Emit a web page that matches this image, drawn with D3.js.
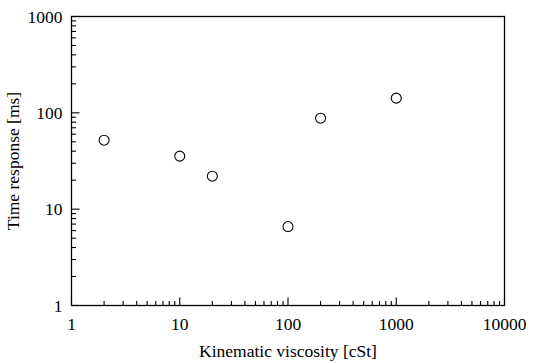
<!DOCTYPE html>
<html>
<head>
<meta charset="utf-8">
<script src="https://cdn.jsdelivr.net/npm/d3@7"></script>
<style>
  body { margin: 0; background: #fff; }
  svg { display: block; font-family: "Liberation Serif", "Times New Roman", serif; }
</style>
</head>
<body>
<svg id="chart" width="544" height="363"></svg>
<script>
// viscosity [cSt] and response time [ms]
const viscosity = [2, 10, 20, 100, 200, 1000];
const responseMs = [52, 35.5, 22, 6.6, 88, 142];
const xTicks = [1, 10, 100, 1000, 10000];
const yTicks = [1, 10, 100, 1000];

const width = 544, height = 363;
const margin = { top: 16.5, right: 39.5, bottom: 57.5, left: 71.5 };
const chartWidth = width - margin.left - margin.right;
const chartHeight = height - margin.top - margin.bottom;

const svg = d3.select('#chart');
const chart = svg.append('g')
  .attr('transform', `translate(${margin.left}, ${margin.top})`);

const x = d3.scaleLog().domain([1, 10000]).range([0, chartWidth]);
const y = d3.scaleLog().domain([1, 1000]).range([chartHeight, 0]);

// minor ticks 2..9 of every decade
const minors = (dom) => {
  const out = [];
  for (let d = dom[0]; d < dom[1]; d *= 10) {
    for (let k = 2; k <= 9; k++) out.push(d * k);
  }
  return out;
};

// frame
chart.append('rect')
  .attr('width', chartWidth)
  .attr('height', chartHeight)
  .attr('fill', 'none')
  .attr('stroke', '#000')
  .attr('stroke-width', 1.3);

const tickG = chart.append('g').attr('stroke', '#000').attr('stroke-width', 1.1);

tickG.selectAll('.xmajor')
  .data(xTicks)
  .join('line')
  .attr('x1', d => x(d)).attr('x2', d => x(d))
  .attr('y1', chartHeight).attr('y2', chartHeight - 8);

tickG.selectAll('.xminor')
  .data(minors(x.domain()))
  .join('line')
  .attr('x1', d => x(d)).attr('x2', d => x(d))
  .attr('y1', chartHeight).attr('y2', chartHeight - 4.5);

tickG.selectAll('.ymajor')
  .data(yTicks)
  .join('line')
  .attr('y1', d => y(d)).attr('y2', d => y(d))
  .attr('x1', 0).attr('x2', 8);

tickG.selectAll('.yminor')
  .data(minors(y.domain()))
  .join('line')
  .attr('y1', d => y(d)).attr('y2', d => y(d))
  .attr('x1', 0).attr('x2', 4.5);

// tick labels
chart.append('g')
  .selectAll('text')
  .data(xTicks)
  .join('text')
  .attr('x', d => x(d))
  .attr('y', chartHeight + 24)
  .attr('text-anchor', 'middle')
  .attr('font-size', 17.5)
  .text(d => d);

chart.append('g')
  .selectAll('text')
  .data(yTicks)
  .join('text')
  .attr('x', -9)
  .attr('y', d => y(d))
  .attr('dy', '0.35em')
  .attr('text-anchor', 'end')
  .attr('font-size', 17.5)
  .text(d => d);

// axis titles
svg.append('text')
  .attr('x', margin.left + chartWidth / 2)
  .attr('y', 357)
  .attr('text-anchor', 'middle')
  .attr('font-size', 17.5)
  .text('Kinematic viscosity [cSt]');

svg.append('text')
  .attr('transform', `translate(19, ${margin.top + chartHeight / 2}) rotate(-90)`)
  .attr('text-anchor', 'middle')
  .attr('font-size', 17.5)
  .text('Time response [ms]');

// data points
chart.append('g')
  .selectAll('circle')
  .data(viscosity.map((v, i) => ({ v, t: responseMs[i] })))
  .join('circle')
  .attr('cx', d => x(d.v))
  .attr('cy', d => y(d.t))
  .attr('r', 5)
  .attr('fill', 'none')
  .attr('stroke', '#000')
  .attr('stroke-width', 1.1);
</script>
</body>
</html>
